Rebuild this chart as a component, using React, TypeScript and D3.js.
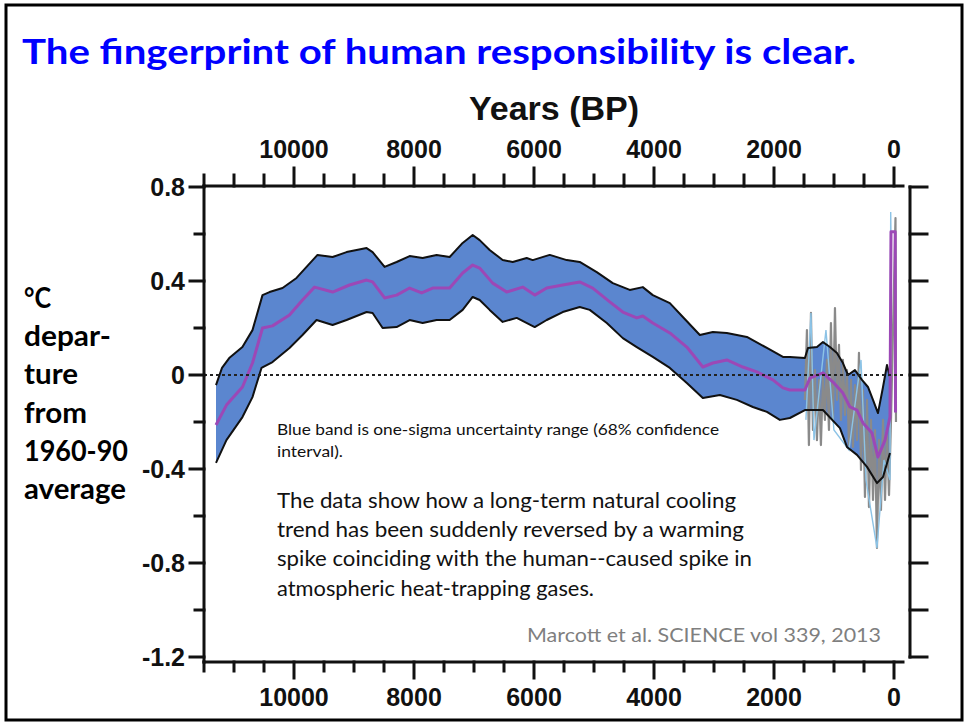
import React from 'react';
import * as d3 from 'd3';

const W = 968;
const H = 723;

// ---- Tick definitions ----
const xMajorTicks = [10000, 8000, 6000, 4000, 2000, 0];
const xMinorTicks = [11500, 11000, 10500, 9500, 9000, 8500, 7500, 7000, 6500, 5500, 5000, 4500, 3500, 3000, 2500, 1500, 1000, 500];
const yLabelTicks = [0.8, 0.4, 0, -0.4, -0.8, -1.2];
const yLabelText = ['0.8', '0.4', '0', '-0.4', '-0.8', '-1.2'];
const yMinorTicks = [0.6, 0.2, -0.2, -0.6, -1.0];
const rightTicks = [0.8, 0.6, 0.4, 0.2, 0, -0.2, -0.4, -0.6, -0.8, -1.0, -1.2];

// ---- Data: [years BP, temperature anomaly °C] ----
const upperBound: [number, number][] = [
  [11300, -0.043], [11200, 0.03], [11080, 0.072], [10860, 0.119], [10692, 0.191], [10525, 0.34],
  [10408, 0.353], [10191, 0.37], [9958, 0.413], [9791, 0.46], [9608, 0.511], [9357, 0.502],
  [9124, 0.523], [8790, 0.54], [8690, 0.523], [8490, 0.46], [8290, 0.481], [8073, 0.506],
  [7856, 0.498], [7623, 0.511], [7406, 0.502], [7189, 0.562], [7022, 0.596], [6906, 0.574],
  [6739, 0.532], [6522, 0.489], [6355, 0.481], [6122, 0.498], [6021, 0.489], [5738, 0.511],
  [5454, 0.489], [5238, 0.481], [4954, 0.438], [4687, 0.391], [4404, 0.362], [4187, 0.374],
  [4020, 0.34], [3736, 0.306], [3519, 0.247], [3236, 0.17], [3019, 0.183], [2786, 0.179],
  [2452, 0.162], [2118, 0.115], [1851, 0.077], [1735, 0.077], [1485, 0.072], [1434, 0.115],
  [1284, 0.119], [1184, 0.14], [1068, 0.119], [951, 0.094], [851, 0.051], [767, 0.0],
  [651, 0.021], [534, -0.021], [434, -0.051], [350, -0.106], [267, -0.162], [183, -0.051],
  [117, 0.043], [67, -0.009],
];

const meanTemp: [number, number][] = [
  [11300, -0.213], [11126, -0.128], [10859, -0.051], [10692, 0.051], [10525, 0.2], [10358, 0.209],
  [10075, 0.255], [9858, 0.319], [9658, 0.374], [9357, 0.353], [9074, 0.383], [8790, 0.404],
  [8690, 0.396], [8490, 0.328], [8290, 0.34], [8073, 0.37], [7873, 0.349], [7689, 0.37],
  [7406, 0.37], [7189, 0.434], [7022, 0.468], [6906, 0.455], [6689, 0.391], [6455, 0.353],
  [6188, 0.374], [5988, 0.34], [5788, 0.37], [5521, 0.383], [5238, 0.396], [5021, 0.37],
  [4737, 0.311], [4520, 0.268], [4287, 0.243], [4187, 0.251], [4020, 0.221], [3736, 0.179],
  [3453, 0.119], [3186, 0.034], [3019, 0.051], [2786, 0.064], [2519, 0.034], [2285, 0.013],
  [2018, -0.021], [1851, -0.055], [1735, -0.064], [1485, -0.064], [1401, -0.013], [1184, 0.009],
  [1017, -0.03], [851, -0.077], [734, -0.136], [617, -0.149], [517, -0.204], [367, -0.247],
  [267, -0.349], [150, -0.277], [67, -0.179], [50, 0.61], [-20, 0.61], [-25, -0.16],
];

const lowerBound: [number, number][] = [
  [11300, -0.374], [11126, -0.277], [10859, -0.179], [10692, -0.094], [10542, 0.03], [10358, 0.055],
  [10075, 0.115], [9858, 0.17], [9624, 0.234], [9357, 0.213], [9124, 0.234], [8790, 0.268],
  [8690, 0.264], [8523, 0.2], [8290, 0.204], [8073, 0.234], [7856, 0.221], [7623, 0.234],
  [7406, 0.234], [7189, 0.277], [7022, 0.332], [6906, 0.319], [6739, 0.277], [6522, 0.226],
  [6288, 0.243], [5988, 0.204], [5788, 0.234], [5521, 0.268], [5238, 0.289], [5071, 0.277],
  [4787, 0.221], [4520, 0.157], [4287, 0.119], [4020, 0.077], [3736, 0.03], [3453, -0.034],
  [3186, -0.098], [2902, -0.085], [2619, -0.106], [2352, -0.136], [2118, -0.157], [1902, -0.191],
  [1735, -0.183], [1485, -0.149], [1184, -0.149], [901, -0.226], [784, -0.306], [617, -0.34],
  [450, -0.391], [284, -0.46], [183, -0.434], [67, -0.332],
];

const grayRecon: [number, number][] = [
  [1485, -0.106], [1451, 0.191], [1418, -0.298], [1384, 0.264], [1351, -0.234], [1318, 0.021],
  [1284, -0.277], [1251, -0.021], [1218, -0.298], [1184, 0.0], [1151, -0.191], [1118, 0.064],
  [1084, -0.234], [1051, 0.221], [1017, -0.191], [984, 0.285], [951, -0.106], [917, 0.128],
  [884, -0.191], [851, 0.064], [817, -0.17], [784, 0.021], [751, -0.298], [717, -0.021],
  [684, -0.306], [651, -0.043], [617, -0.277], [584, 0.094], [550, -0.404], [517, -0.064],
  [484, -0.519], [450, -0.106], [417, -0.562], [384, -0.191], [350, -0.532], [317, -0.234],
  [284, -0.736], [250, -0.277], [217, -0.574], [183, -0.191], [150, -0.532], [117, -0.234],
  [83, -0.511], [50, -0.191], [-25, 0.668], [-33, -0.2],
];

const blueRecon: [number, number][] = [
  [1468, -0.191], [1384, 0.264], [1334, -0.277], [1134, 0.191], [1001, -0.234], [751, -0.319],
  [550, 0.064], [467, -0.447], [284, -0.736], [167, -0.362], [67, -0.447], [55, 0.694], [45, 0.49],
];

// ---- Text ----
const titleText = 'The fingerprint of human responsibility is clear.';
const yLabelLines = ['°C', 'depar-', 'ture', 'from', '1960-90', 'average'];
const yLabelWidths = [27, 87, 54, 63, 104, 102];
const noteSmall = ['Blue band is one-sigma uncertainty range (68% confidence', 'interval).'];
const noteSmallWidths = [442, 66];
const noteLarge = [
  'The data show how a long-term natural cooling',
  'trend has been suddenly reversed by a warming',
  'spike coinciding with the human--caused spike in',
  'atmospheric heat-trapping gases.',
];
const noteLargeWidths = [459, 467, 475, 317];
const citation = 'Marcott et al. SCIENCE vol 339, 2013';

export default function App() {
  const x = d3.scaleLinear().domain([11500, 0]).range([204, 894]);
  const y = d3.scaleLinear().domain([0.8, -1.2]).range([187, 657]);
  const line = d3.line<[number, number]>().x(d => x(d[0])).y(d => y(d[1]));

  const bandPath = line([...upperBound, ...lowerBound.slice().reverse()]) + 'Z';

  const axisLeft = 204;
  const axisTop = 186;
  const axisBottom = 662;
  const axisRightEnd = x(-150);
  const rightAxisX = 910;

  const calibri = "Lato, 'Open Sans', sans-serif";
  const arial = "'Liberation Sans', Arial, sans-serif";

  return (
    <svg width={W} height={H} style={{ position: 'absolute', left: 0, top: 0, background: '#fff' }}>
      <rect x={0} y={0} width={W} height={H} fill="#fff" />
      <rect x={6} y={5} width={956} height={715} fill="none" stroke="#000" strokeWidth={3} />

      <text x={22} y={64} fontFamily={calibri} fontWeight={700} fontSize={35} fill="#0000ff"
        textLength={834} lengthAdjust="spacingAndGlyphs">{titleText}</text>

      {/* Y label */}
      {yLabelLines.map((t, i) => (
        <text key={t} x={24} y={308 + i * 38.2} fontFamily={calibri} fontWeight={700} fontSize={28}
          fill="#000" textLength={yLabelWidths[i]} lengthAdjust="spacingAndGlyphs">{t}</text>
      ))}

      {/* Years (BP) */}
      <text x={554} y={120} textAnchor="middle" fontFamily={arial} fontWeight={700} fontSize={34} fill="#111">Years (BP)</text>

      {/* Data: band */}
      <path d={bandPath} fill="#5b86cf" stroke="none" />
      <path d={line(grayRecon) || ''} fill="none" stroke="#8a8a8a" strokeWidth={2.2} strokeLinejoin="round" />
      <path d={line(blueRecon) || ''} fill="none" stroke="#8cc3e6" strokeWidth={1.4} />
      <path d={line(upperBound) || ''} fill="none" stroke="#111" strokeWidth={2} strokeLinejoin="round" />
      <path d={line(lowerBound) || ''} fill="none" stroke="#111" strokeWidth={2} strokeLinejoin="round" />
      <path d={line(meanTemp) || ''} fill="none" stroke="#9c48b6" strokeWidth={3} strokeLinejoin="round" />

      {/* zero line */}
      <line x1={axisLeft} x2={axisRightEnd} y1={y(0)} y2={y(0)} stroke="#222" strokeWidth={2} strokeDasharray="3,3" />

      {/* Axes frame */}
      <g stroke="#111" strokeWidth={3} strokeLinecap="square">
        <line x1={axisLeft} x2={axisRightEnd} y1={axisTop} y2={axisTop} />
        <line x1={axisLeft} x2={axisRightEnd} y1={axisBottom} y2={axisBottom} />
        <line x1={axisLeft} x2={axisLeft} y1={axisTop} y2={axisBottom} />
        <line x1={rightAxisX} x2={rightAxisX} y1={y(0.8)} y2={y(-1.2)} />
        {xMajorTicks.map(t => (
          <g key={'M' + t}>
            <line x1={x(t)} x2={x(t)} y1={axisTop} y2={axisTop - 18} />
            <line x1={x(t)} x2={x(t)} y1={axisBottom} y2={axisBottom + 16} />
          </g>
        ))}
        {xMinorTicks.map(t => (
          <g key={'m' + t}>
            <line x1={x(t)} x2={x(t)} y1={axisTop} y2={axisTop - 11} />
            <line x1={x(t)} x2={x(t)} y1={axisBottom} y2={axisBottom + 9} />
          </g>
        ))}
        {yLabelTicks.map(t => (
          <line key={'yl' + t} x1={axisLeft} x2={axisLeft - 14} y1={y(t)} y2={y(t)} />
        ))}
        {yMinorTicks.map(t => (
          <line key={'ym' + t} x1={axisLeft} x2={axisLeft - 9} y1={y(t)} y2={y(t)} />
        ))}
        {rightTicks.map(t => (
          <line key={'r' + t} x1={rightAxisX} x2={rightAxisX + 17} y1={y(t)} y2={y(t)} />
        ))}
      </g>

      {/* tick labels */}
      {xMajorTicks.map(t => (
        <g key={'lab' + t} fontFamily={arial} fontWeight={700} fontSize={25} fill="#111" textAnchor="middle">
          <text x={x(t)} y={158}>{t}</text>
          <text x={x(t)} y={706}>{t}</text>
        </g>
      ))}
      {yLabelTicks.map((t, i) => (
        <text key={'yt' + t} x={185} y={y(t)} dy="0.36em" textAnchor="end" fontFamily={arial} fontWeight={700}
          fontSize={25} fill="#111">{yLabelText[i]}</text>
      ))}

      {/* annotations */}
      {noteSmall.map((t, i) => (
        <text key={t} x={277} y={435 + i * 22} fontFamily={calibri} fontSize={16} fill="#111"
          textLength={noteSmallWidths[i]} lengthAdjust="spacingAndGlyphs">{t}</text>
      ))}
      {noteLarge.map((t, i) => (
        <text key={t} x={277} y={508 + i * 29.2} fontFamily={calibri} fontSize={21.5} fill="#111"
          textLength={noteLargeWidths[i]} lengthAdjust="spacingAndGlyphs">{t}</text>
      ))}
      <text x={527} y={642} fontFamily={calibri} fontSize={20} fill="#7f7f7f" textLength={354}
        lengthAdjust="spacingAndGlyphs">{citation}</text>
    </svg>
  );
}
